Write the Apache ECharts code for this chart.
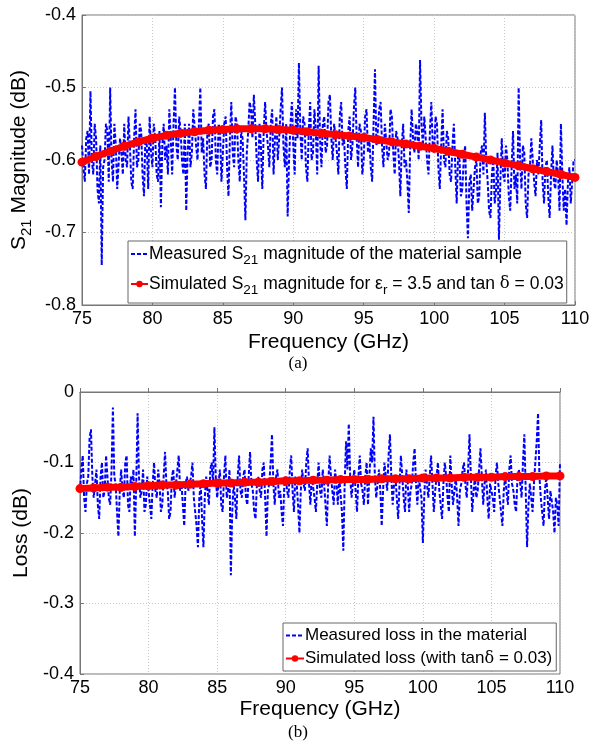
<!DOCTYPE html>
<html>
<head>
<meta charset="utf-8">
<script src="https://cdn.jsdelivr.net/npm/echarts@6/dist/echarts.min.js"></script>
<style>
html,body{margin:0;padding:0;background:#fff;}
#c{width:596px;height:741px;}
</style>
</head>
<body>
<div id="c"></div>
<script>
// ---- Data ----
const freqStart = 75, freqStep = 0.1;
const xTicks = [75, 80, 85, 90, 95, 100, 105, 110];
const yTicksA = [-0.8, -0.7, -0.6, -0.5, -0.4];
const yTicksB = [-0.4, -0.3, -0.2, -0.1, 0];

// (a) measured S21 magnitude (dB), 75..110 GHz every 0.1 GHz
const measuredS21 = [
 -0.58,-0.61,-0.63,-0.57,-0.56,-0.62,-0.505,-0.60,-0.62,-0.55,
 -0.57,-0.64,-0.66,-0.58,-0.745,-0.61,-0.60,-0.55,-0.56,-0.63,
 -0.50,-0.60,-0.63,-0.55,-0.58,-0.64,-0.64,-0.57,-0.59,-0.62,
 -0.55,-0.60,-0.61,-0.54,-0.58,-0.63,-0.64,-0.57,-0.53,-0.61,
 -0.60,-0.55,-0.56,-0.62,-0.65,-0.57,-0.58,-0.64,-0.54,-0.59,
 -0.61,-0.55,-0.57,-0.62,-0.63,-0.56,-0.665,-0.58,-0.55,-0.60,
 -0.58,-0.62,-0.53,-0.57,-0.62,-0.55,-0.50,-0.58,-0.60,-0.54,
 -0.56,-0.60,-0.62,-0.55,-0.67,-0.59,-0.55,-0.61,-0.59,-0.53,
 -0.53,-0.58,-0.60,-0.55,-0.50,-0.59,-0.57,-0.62,-0.64,-0.56,
 -0.55,-0.61,-0.60,-0.54,-0.53,-0.60,-0.62,-0.55,-0.56,-0.63,
 -0.59,-0.55,-0.54,-0.61,-0.65,-0.57,-0.52,-0.59,-0.61,-0.54,
 -0.55,-0.60,-0.63,-0.56,-0.57,-0.62,-0.683,-0.59,-0.56,-0.52,
 -0.53,-0.57,-0.51,-0.55,-0.60,-0.63,-0.55,-0.58,-0.64,-0.56,
 -0.52,-0.56,-0.58,-0.61,-0.55,-0.53,-0.62,-0.57,-0.54,-0.60,
 -0.57,-0.53,-0.50,-0.58,-0.61,-0.55,-0.678,-0.60,-0.55,-0.52,
 -0.58,-0.62,-0.53,-0.57,-0.466,-0.56,-0.60,-0.54,-0.55,-0.61,
 -0.63,-0.56,-0.52,-0.60,-0.59,-0.53,-0.56,-0.62,-0.47,-0.57,
 -0.61,-0.55,-0.54,-0.59,-0.58,-0.52,-0.51,-0.57,-0.60,-0.55,
 -0.55,-0.59,-0.62,-0.54,-0.52,-0.58,-0.57,-0.61,-0.64,-0.56,
 -0.54,-0.60,-0.58,-0.53,-0.50,-0.57,-0.61,-0.55,-0.56,-0.62,
 -0.60,-0.54,-0.53,-0.59,-0.57,-0.61,-0.63,-0.55,-0.475,-0.58,
 -0.56,-0.53,-0.52,-0.58,-0.61,-0.55,-0.55,-0.60,-0.59,-0.53,
 -0.54,-0.59,-0.62,-0.56,-0.57,-0.60,-0.65,-0.58,-0.55,-0.61,
 -0.60,-0.63,-0.673,-0.58,-0.53,-0.57,-0.59,-0.55,-0.56,-0.60,
 -0.462,-0.55,-0.58,-0.54,-0.54,-0.60,-0.62,-0.56,-0.52,-0.58,
 -0.59,-0.54,-0.55,-0.61,-0.64,-0.58,-0.53,-0.60,-0.61,-0.56,
 -0.57,-0.62,-0.63,-0.58,-0.55,-0.61,-0.66,-0.59,-0.60,-0.65,
 -0.64,-0.60,-0.58,-0.66,-0.708,-0.63,-0.62,-0.67,-0.67,-0.61,
 -0.60,-0.66,-0.65,-0.59,-0.58,-0.62,-0.535,-0.60,-0.63,-0.67,
 -0.68,-0.62,-0.60,-0.66,-0.64,-0.59,-0.71,-0.63,-0.57,-0.62,
 -0.63,-0.58,-0.60,-0.65,-0.67,-0.61,-0.56,-0.64,-0.62,-0.66,
 -0.50,-0.60,-0.64,-0.58,-0.59,-0.66,-0.68,-0.62,-0.61,-0.57,
 -0.57,-0.63,-0.65,-0.60,-0.62,-0.58,-0.545,-0.63,-0.66,-0.61,
 -0.60,-0.65,-0.68,-0.62,-0.58,-0.63,-0.64,-0.60,-0.62,-0.67,
 -0.55,-0.62,-0.67,-0.64,-0.69,-0.63,-0.61,-0.66,-0.66,-0.60,
 -0.60
];

// (a) simulated S21 magnitude (dB), 75..110 GHz every 1 GHz
const simFreq = [75,76,77,78,79,80,81,82,83,84,85,86,87,88,89,90,91,92,93,94,95,96,97,98,99,100,101,102,103,104,105,106,107,108,109,110];
const simulatedS21 = [
 -0.603,-0.595,-0.588,-0.581,-0.575,-0.570,-0.566,-0.563,-0.561,-0.559,
 -0.558,-0.557,-0.557,-0.557,-0.558,-0.559,-0.561,-0.563,-0.565,-0.567,
 -0.569,-0.572,-0.575,-0.578,-0.581,-0.584,-0.588,-0.592,-0.596,-0.600,
 -0.604,-0.608,-0.612,-0.616,-0.620,-0.624
];

// (b) measured loss (dB), 75..110 GHz every 0.1 GHz
const measuredLoss = [
 -0.14,-0.11,-0.09,-0.15,-0.17,-0.13,-0.12,-0.065,-0.053,-0.12,
 -0.15,-0.13,-0.11,-0.16,-0.18,-0.12,-0.10,-0.15,-0.14,-0.09,
 -0.12,-0.15,-0.16,-0.11,-0.022,-0.12,-0.13,-0.17,-0.205,-0.14,
 -0.11,-0.14,-0.15,-0.10,-0.09,-0.16,-0.17,-0.12,-0.13,-0.11,
 -0.205,-0.13,-0.03,-0.12,-0.15,-0.14,-0.11,-0.17,-0.16,-0.12,
 -0.12,-0.16,-0.18,-0.13,-0.10,-0.14,-0.15,-0.11,-0.13,-0.17,
 -0.16,-0.12,-0.085,-0.13,-0.14,-0.18,-0.17,-0.12,-0.11,-0.15,
 -0.15,-0.11,-0.09,-0.14,-0.13,-0.16,-0.19,-0.13,-0.12,-0.14,
 -0.14,-0.12,-0.10,-0.15,-0.17,-0.19,-0.22,-0.15,-0.13,-0.18,
 -0.22,-0.15,-0.12,-0.14,-0.16,-0.11,-0.10,-0.13,-0.05,-0.12,
 -0.15,-0.13,-0.11,-0.16,-0.17,-0.12,-0.09,-0.15,-0.14,-0.11,
 -0.26,-0.17,-0.13,-0.15,-0.18,-0.12,-0.09,-0.14,-0.15,-0.12,
 -0.11,-0.15,-0.16,-0.12,-0.085,-0.13,-0.14,-0.17,-0.18,-0.13,
 -0.12,-0.14,-0.15,-0.11,-0.10,-0.15,-0.205,-0.14,-0.13,-0.10,
 -0.06,-0.13,-0.16,-0.12,-0.11,-0.15,-0.14,-0.17,-0.19,-0.13,
 -0.12,-0.14,-0.15,-0.11,-0.09,-0.14,-0.17,-0.12,-0.13,-0.16,
 -0.20,-0.14,-0.11,-0.13,-0.14,-0.10,-0.08,-0.13,-0.16,-0.12,
 -0.12,-0.15,-0.17,-0.13,-0.10,-0.14,-0.15,-0.11,-0.13,-0.16,
 -0.19,-0.13,-0.09,-0.12,-0.14,-0.16,-0.11,-0.13,-0.16,-0.12,
 -0.12,-0.17,-0.225,-0.13,-0.07,-0.11,-0.045,-0.12,-0.15,-0.13,
 -0.11,-0.14,-0.17,-0.12,-0.09,-0.13,-0.14,-0.16,-0.12,-0.10,
 -0.16,-0.12,-0.08,-0.10,-0.035,-0.12,-0.15,-0.13,-0.11,-0.14,
 -0.19,-0.14,-0.10,-0.12,-0.14,-0.09,-0.06,-0.12,-0.16,-0.13,
 -0.12,-0.15,-0.18,-0.13,-0.09,-0.12,-0.15,-0.17,-0.11,-0.13,
 -0.17,-0.14,-0.13,-0.10,-0.08,-0.13,-0.16,-0.12,-0.12,-0.15,
 -0.214,-0.15,-0.11,-0.13,-0.15,-0.12,-0.09,-0.13,-0.17,-0.14,
 -0.12,-0.10,-0.14,-0.16,-0.18,-0.13,-0.10,-0.12,-0.15,-0.17,
 -0.09,-0.13,-0.16,-0.14,-0.12,-0.15,-0.19,-0.14,-0.13,-0.11,
 -0.10,-0.13,-0.15,-0.11,-0.06,-0.12,-0.17,-0.14,-0.12,-0.15,
 -0.14,-0.11,-0.08,-0.12,-0.16,-0.13,-0.11,-0.15,-0.18,-0.13,
 -0.13,-0.15,-0.17,-0.12,-0.10,-0.13,-0.15,-0.17,-0.19,-0.14,
 -0.12,-0.14,-0.16,-0.11,-0.09,-0.13,-0.14,-0.16,-0.17,-0.12,
 -0.11,-0.13,-0.15,-0.10,-0.06,-0.14,-0.22,-0.16,-0.13,-0.15,
 -0.17,-0.13,-0.10,-0.07,-0.03,-0.12,-0.15,-0.17,-0.19,-0.14,
 -0.12,-0.15,-0.18,-0.14,-0.14,-0.17,-0.20,-0.15,-0.16,-0.19,
 -0.10
];

// (b) simulated loss (dB), 75..110 GHz every 1 GHz
const simulatedLoss = [
 -0.137,-0.136,-0.135,-0.135,-0.134,-0.133,-0.132,-0.132,-0.131,-0.130,
 -0.129,-0.129,-0.128,-0.128,-0.127,-0.126,-0.126,-0.125,-0.125,-0.124,
 -0.124,-0.124,-0.123,-0.123,-0.123,-0.122,-0.122,-0.122,-0.121,-0.121,
 -0.121,-0.120,-0.120,-0.120,-0.119,-0.119
];

const nameMeasA = 'Measured S21 magnitude of the material sample';
const nameSimA = 'Simulated S21 magnitude for er = 3.5 and tan d = 0.03';
const nameMeasB = 'Measured loss in the material';
const nameSimB = 'Simulated loss (with tand = 0.03)';

// ---- Build ----
const pair = (xs, ys) => ys.map((v, i) => [xs[i], v]);
const measFreq = measuredS21.map((_, i) => +(freqStart + i * freqStep).toFixed(2));

const FONT = 'Liberation Sans, Arial, sans-serif';
function richFor(size) {
  return {
    n: { fontFamily: FONT, fontSize: size, color: '#000' },
    s: { fontFamily: FONT, fontSize: size - 4, color: '#000', padding: [12, 0, 0, 0] },
    g: { fontFamily: 'DejaVu Serif, serif', fontSize: size - 1, color: '#000' }
  };
}

function xAxis(gridIndex, gap) {
  return {
    type: 'value', gridIndex, min: 75, max: 110, interval: 5,
    name: 'Frequency (GHz)', nameLocation: 'middle', nameGap: gap,
    nameTextStyle: { fontFamily: FONT, fontSize: 21, color: '#000' },
    axisLine: { show: true, lineStyle: { color: '#777' } },
    axisTick: { show: true, inside: true, length: 4, lineStyle: { color: '#777' } },
    axisLabel: { fontFamily: FONT, fontSize: 18, color: '#000', margin: 5 },
    splitLine: { show: true, lineStyle: { color: '#c8c8c8', type: [1, 2] } }
  };
}
function yAxis(gridIndex, min, max, name, nameGap) {
  return {
    type: 'value', gridIndex, min, max, interval: 0.1,
    name, nameLocation: 'middle', nameGap, nameRotate: 90,
    nameTextStyle: { fontFamily: FONT, fontSize: 21, color: '#000', rich: {
      n: { fontFamily: FONT, fontSize: 21, color: '#000' },
      s: { fontFamily: FONT, fontSize: 15, color: '#000', padding: [14, 0, 0, 0] }
    } },
    axisLine: { show: true, lineStyle: { color: '#777' } },
    axisTick: { show: true, inside: true, length: 4, lineStyle: { color: '#777' } },
    axisLabel: { fontFamily: FONT, fontSize: 18, color: '#000', margin: 6,
      formatter: v => (Math.abs(v) < 1e-9 ? '0' : v.toFixed(1)) },
    splitLine: { show: true, lineStyle: { color: '#c8c8c8', type: [1, 2] } }
  };
}

function legendFmt(name) {
  if (name === nameMeasA) return '{n|Measured S}{s|21}{n| magnitude of the material sample}';
  if (name === nameSimA) return '{n|Simulated S}{s|21}{n| magnitude for ε}{s|r}{n| = 3.5 and tan }{g|δ}{n| = 0.03}';
  if (name === nameSimB) return '{n|Simulated loss (with tan}{g|δ}{n| = 0.03)}';
  return '{n|' + name + '}';
}

const chart = echarts.init(document.getElementById('c'), null, { renderer: 'canvas' });
chart.setOption({
  animation: false,
  backgroundColor: '#fff',
  grid: [
    { left: 82, top: 15, width: 493, height: 290, show: true, borderColor: '#777', borderWidth: 1, backgroundColor: '#fff' },
    { left: 80, top: 392, width: 480, height: 282, show: true, borderColor: '#777', borderWidth: 1, backgroundColor: '#fff' }
  ],
  xAxis: [xAxis(0, 27), xAxis(1, 25)],
  yAxis: [
    yAxis(0, -0.8, -0.4, '{n|S}{s|21}{n| Magnitude (dB)}', 46),
    yAxis(1, -0.4, 0, 'Loss (dB)', 36)
  ],
  legend: [
    {
      data: [{ name: nameMeasA, itemStyle: { opacity: 0 } }, nameSimA],
      orient: 'vertical', left: 128, top: 241,
      selectedMode: false,
      backgroundColor: '#fff', borderColor: '#666', borderWidth: 1,
      padding: [4, 3, 6, 2], itemGap: 8, itemWidth: 17, itemHeight: 8,
      formatter: legendFmt,
      textStyle: { fontFamily: FONT, fontSize: 17.5, color: '#000', rich: richFor(17.5), padding: [0, 0, 0, -4] }
    },
    {
      data: [{ name: nameMeasB, itemStyle: { opacity: 0 } }, nameSimB],
      orient: 'vertical', left: 283, top: 623,
      selectedMode: false,
      backgroundColor: '#fff', borderColor: '#666', borderWidth: 1,
      padding: [4, 4, 4, 2], itemGap: 6, itemWidth: 18, itemHeight: 8,
      formatter: legendFmt,
      textStyle: { fontFamily: FONT, fontSize: 17, color: '#000', rich: richFor(17), padding: [0, 0, 0, -4] }
    }
  ],
  graphic: [
    { type: 'text', left: 'center', top: 355, style: { text: '(a)', font: '17px "Liberation Serif", serif', fill: '#000' } },
    { type: 'text', left: 'center', top: 724, style: { text: '(b)', font: '17px "Liberation Serif", serif', fill: '#000' } }
  ],
  series: [
    {
      name: nameMeasA, type: 'line', xAxisIndex: 0, yAxisIndex: 0,
      data: pair(measFreq, measuredS21), showSymbol: false, symbol: 'none',
      lineStyle: { color: '#0000ff', width: 2, type: [4, 2] }, itemStyle: { color: '#0000ff' }, z: 2
    },
    {
      name: nameSimA, type: 'line', xAxisIndex: 0, yAxisIndex: 0,
      data: pair(simFreq, simulatedS21), symbol: 'circle', symbolSize: 9, showAllSymbol: true,
      lineStyle: { color: '#ff0000', width: 7 }, itemStyle: { color: '#ff0000' }, z: 3
    },
    {
      name: nameMeasB, type: 'line', xAxisIndex: 1, yAxisIndex: 1,
      data: pair(measFreq, measuredLoss), showSymbol: false, symbol: 'none',
      lineStyle: { color: '#0000ff', width: 2, type: [4, 2] }, itemStyle: { color: '#0000ff' }, z: 2
    },
    {
      name: nameSimB, type: 'line', xAxisIndex: 1, yAxisIndex: 1,
      data: pair(simFreq, simulatedLoss), symbol: 'circle', symbolSize: 9, showAllSymbol: true,
      lineStyle: { color: '#ff0000', width: 7 }, itemStyle: { color: '#ff0000' }, z: 3
    }
  ]
});
</script>
</body>
</html>
